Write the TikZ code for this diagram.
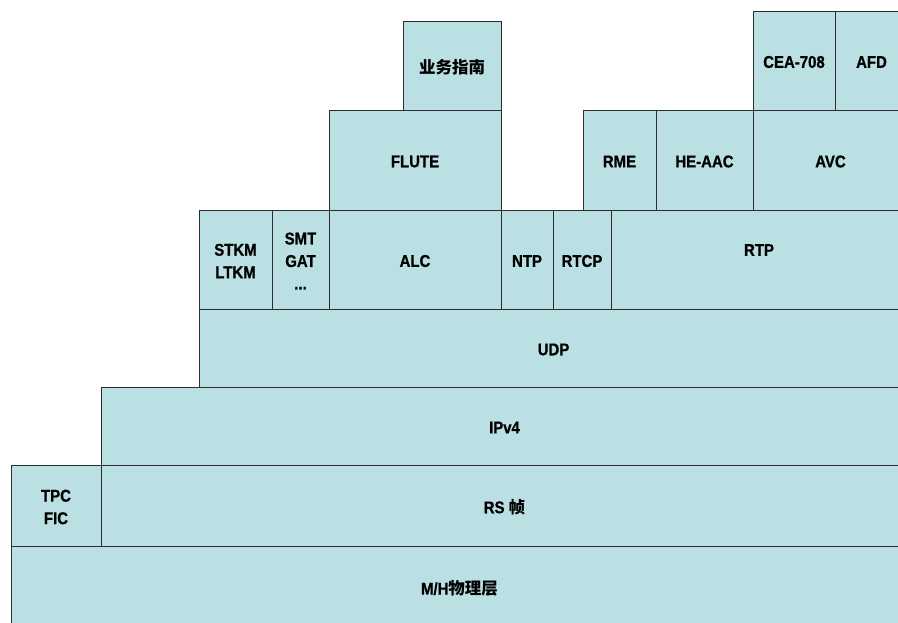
\documentclass[tikz,border=0pt]{standalone}
\usepackage{fontspec}
\setmainfont{Liberation Sans}[FakeStretch=0.88, BoldFeatures={FakeBold=0.8}]
\newfontfamily\cjk{Noto Sans CJK SC}
\usetikzlibrary{fit}
\definecolor{boxfill}{RGB}{186,224,227}
\definecolor{boxline}{RGB}{45,45,45}
\tikzset{
  blk/.style={draw=boxline, fill=boxfill, line width=1pt, inner sep=0pt, outer sep=0pt},
  lbl/.style={inner sep=0pt, align=center, font=\fontsize{17}{22.5}\selectfont\bfseries}
}
\newcommand{\cj}[1]{{\fontsize{16.5}{22}\selectfont\cjk\bfseries #1}}
\newcommand{\blk}[6]{\node[blk, fit={(#2,#3)(#4,#5)}] (#1) {};
  \node[lbl, yshift=-1.5pt] (#1-t) at (#1.center) {#6};}
\begin{document}
\begin{tikzpicture}[x=1pt,y=-1pt]
\useasboundingbox (0,0) rectangle (898,622);
\clip (0,0) rectangle (898,622);
\blk{guide}{403}{21}{501}{110}{\cj{业务指南}}
\blk{flute}{329}{110}{501}{210}{FLUTE}
\blk{rme}{583}{110}{656}{210}{RME}
\blk{heaac}{656}{110}{753}{210}{HE-AAC}
\blk{avc}{753}{110}{908}{210}{AVC}
\blk{cea}{753}{11}{835}{110}{CEA-708}
\blk{afd}{835}{11}{908}{110}{AFD}
\blk{stkm}{199}{210}{272}{309}{STKM\\LTKM}
\blk{smt}{272}{210}{329}{309}{SMT\\GAT\\...}
\blk{alc}{329}{210}{501}{309}{ALC}
\blk{ntp}{501}{210}{553}{309}{NTP}
\blk{rtcp}{553}{210}{611}{309}{RTCP}
\node[blk, fit={(611,210)(908,309)}] (rtp) {};
\node[lbl] (rtp-t) at (759,250) {RTP};
\blk{udp}{199}{309}{908}{387}{UDP}
\blk{ipv4}{101}{387}{908}{465}{IPv4}
\blk{tpc}{11}{465}{101}{546}{TPC\\FIC}
\blk{rs}{101}{465}{908}{546}{RS \cj{帧}}
\blk{phy}{11}{546}{908}{628}{M/H\cj{物理层}}
\end{tikzpicture}
\end{document}
